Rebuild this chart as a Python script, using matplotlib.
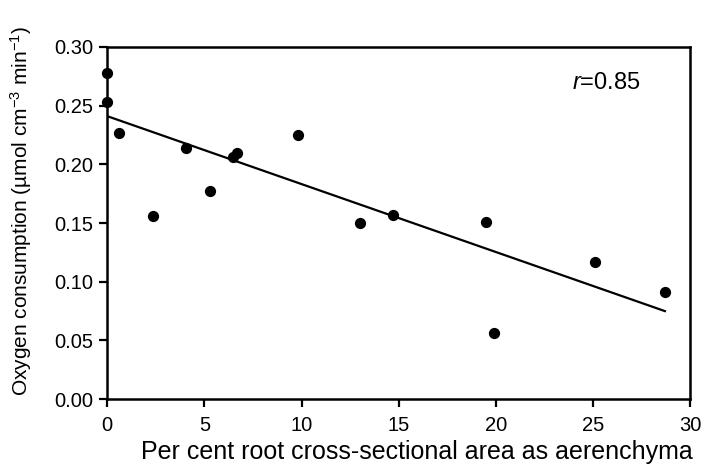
import numpy as np
import matplotlib
matplotlib.use('Agg')
import matplotlib.pyplot as plt

plt.rcParams['font.family'] = ['Liberation Sans', 'DejaVu Sans']
plt.rcParams['mathtext.fontset'] = 'custom'
plt.rcParams['mathtext.rm'] = 'Liberation Sans'
plt.rcParams['mathtext.it'] = 'Liberation Sans:italic'

# aerenchyma (%) vs oxygen consumption
aerenchyma = [0.0, 0.0, 0.6, 2.35, 4.05, 5.3, 6.5, 6.7, 9.8, 13.0, 14.7, 19.5, 19.9, 25.1, 28.7]
oxygen = [0.278, 0.253, 0.227, 0.156, 0.214, 0.177, 0.206, 0.210, 0.225, 0.150, 0.157, 0.151, 0.056, 0.117, 0.091]

# regression line end points
fit_x = [0.0, 28.7]
fit_y = [0.241, 0.075]

fig = plt.figure(figsize=(7.05, 4.73), dpi=100)
ax = fig.add_axes([0.152, 0.156, 0.827, 0.745])

ax.plot(fit_x, fit_y, color='black', lw=1.6, zorder=2)
ax.scatter(aerenchyma, oxygen, s=50, color='black', zorder=3, clip_on=False)

ax.set_xlim(0, 30)
ax.set_ylim(0, 0.30)
ax.set_xticks(np.arange(0, 31, 5))
ax.set_yticks(np.arange(0, 0.31, 0.05))
ax.set_yticklabels([f'{v:.2f}' for v in np.arange(0, 0.31, 0.05)])
ax.tick_params(direction='out', length=6, width=1.6, labelsize=14.5, pad=4)
ax.tick_params(axis='x', pad=6)
for s in ax.spines.values():
    s.set_linewidth(1.8)

ax.text(25.7, 0.269, r'$\it{r}$=0.85', fontsize=17, ha='center', va='center')

ax.set_xlabel('Per cent root cross-sectional area as aerenchyma', fontsize=18)
ax.set_ylabel('Oxygen consumption (µmol cm$^{-3}$ min$^{-1}$)', fontsize=15)
ax.xaxis.set_label_coords(0.532, -0.115)
ax.yaxis.set_label_coords(-0.125, 0.535)

fig.savefig('out.png', dpi=100)
